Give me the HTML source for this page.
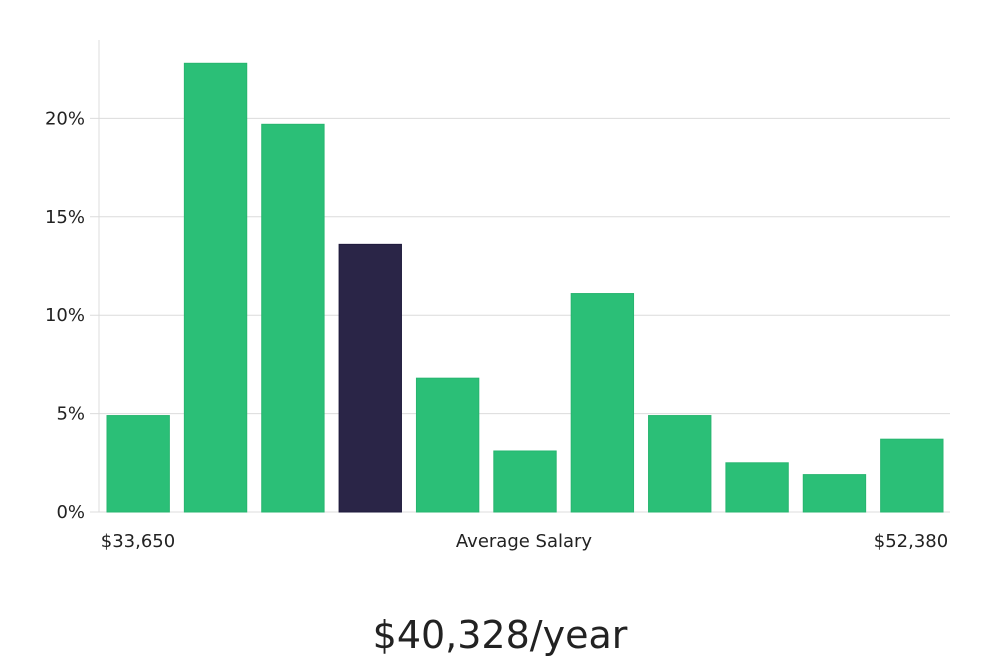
<!DOCTYPE html>
<html><head><meta charset="utf-8"><style>
body{margin:0;background:#fff;width:1000px;height:660px;overflow:hidden;font-family:"DejaVu Sans","Liberation Sans",sans-serif;}
svg text{font-family:"DejaVu Sans","Liberation Sans",sans-serif;}
</style></head><body>
<svg id="chart" width="1000" height="660" xmlns="http://www.w3.org/2000/svg">
<g id="grid"></g>
<g id="bars"></g>
<g id="axes"></g>
<text x="138" y="547" text-anchor="middle" font-size="18" fill="#222">$33,650</text>
<text x="524" y="547" text-anchor="middle" font-size="18" fill="#222">Average Salary</text>
<text x="911" y="547" text-anchor="middle" font-size="18" fill="#222">$52,380</text>
<text x="500" y="648" text-anchor="middle" font-size="38" fill="#222" font-family="Liberation Sans Narrow, Liberation Sans, sans-serif">$40,328/year</text>
</svg>
<script>
const values = [4.9, 22.8, 19.7, 13.6, 6.8, 3.1, 11.1, 4.9, 2.5, 1.9, 3.7];
const highlightIndex = [3];
const yTicks = [0, 5, 10, 15, 20];
const yTickLabels = ["0%", "5%", "10%", "15%", "20%"];
const NS = "http://www.w3.org/2000/svg";
const x0 = 99, x1 = 950, yBase = 512, pxPerPct = 19.68;
const y = v => yBase - v * pxPerPct;
const step = (x1 - x0) / values.length;
const grid = document.getElementById('grid'), bars = document.getElementById('bars'), axes = document.getElementById('axes');
yTicks.forEach((t, i) => {
  const l = document.createElementNS(NS, 'line');
  
  
  l.setAttribute('x1', 90); l.setAttribute('x2', x1);
  l.setAttribute('y1', y(t)); l.setAttribute('y2', y(t));
  l.setAttribute('stroke', '#dcdcdc'); l.setAttribute('stroke-width', 1);
  grid.appendChild(l);
  const tx = document.createElementNS(NS, 'text');
  
  
  tx.setAttribute('x', 85); tx.setAttribute('y', y(t) + 6);
  tx.setAttribute('text-anchor', 'end'); tx.setAttribute('font-size', 18); tx.setAttribute('fill', '#222');
  tx.textContent = yTickLabels[i];
  axes.appendChild(tx);
});
const ax = document.createElementNS(NS, 'line');


ax.setAttribute('x1', x0); ax.setAttribute('x2', x0); ax.setAttribute('y1', 40); ax.setAttribute('y2', yBase);
ax.setAttribute('stroke', '#dcdcdc');
axes.appendChild(ax);
values.forEach((v, i) => {
  const r = document.createElementNS(NS, 'rect');
  
  
  const hi = highlightIndex.includes(i);
  r.setAttribute('x', x0 + i * step + 8);
  r.setAttribute('width', step - 15);
  r.setAttribute('y', y(v));
  r.setAttribute('height', yBase - y(v));
  r.setAttribute('fill', hi ? '#2a2547' : '#2bbf77');
  r.setAttribute('stroke', hi ? '#1e1a3c' : '#27b56f');
  r.setAttribute('stroke-width', 1);
  bars.appendChild(r);
});
</script>
</body></html>
